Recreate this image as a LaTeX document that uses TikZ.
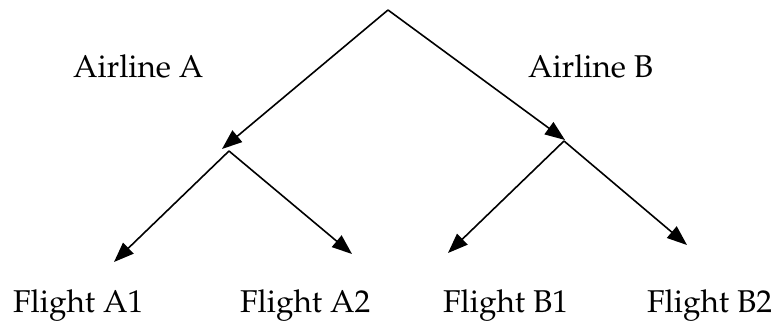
\documentclass[tikz,border=0pt]{standalone}
\usepackage[T1]{fontenc}
\usepackage{mathpazo}
\usetikzlibrary{arrows.meta}
\begin{document}
\begin{tikzpicture}[x=1pt,y=-1pt,
  conn/.style={line width=1.6pt,-{Triangle[length=20pt,width=15pt]}},
  lbl/.style={anchor=base west,inner sep=0pt,font=\fontsize{31.5}{36}\selectfont}]
\useasboundingbox (0,0) rectangle (775,323);
\coordinate (top) at (388,10);
\coordinate (aend) at (222,149);
\coordinate (aa) at (229,151);
\coordinate (bend) at (565,140);
\coordinate (bb) at (564,141);
\coordinate (a1) at (114,262);
\coordinate (a2) at (352,254);
\coordinate (b1) at (448,253);
\coordinate (b2) at (687,245);
\node[lbl] (la) at (73,78) {Airline A};
\node[lbl] (lb) at (528,78) {Airline B};
\node[lbl] (fa1) at (13,312) {Flight A1};
\node[lbl] (fa2) at (240,312) {Flight A2};
\node[lbl] (fb1) at (443,312) {Flight B1};
\node[lbl] (fb2) at (647,312) {Flight B2};
\draw[conn] (top) -- (aend);
\draw[conn] (top) -- (bend);
\draw[conn] (aa) -- (a1);
\draw[conn] (aa) -- (a2);
\draw[conn] (bb) -- (b1);
\draw[conn] (bb) -- (b2);
\end{tikzpicture}
\end{document}
